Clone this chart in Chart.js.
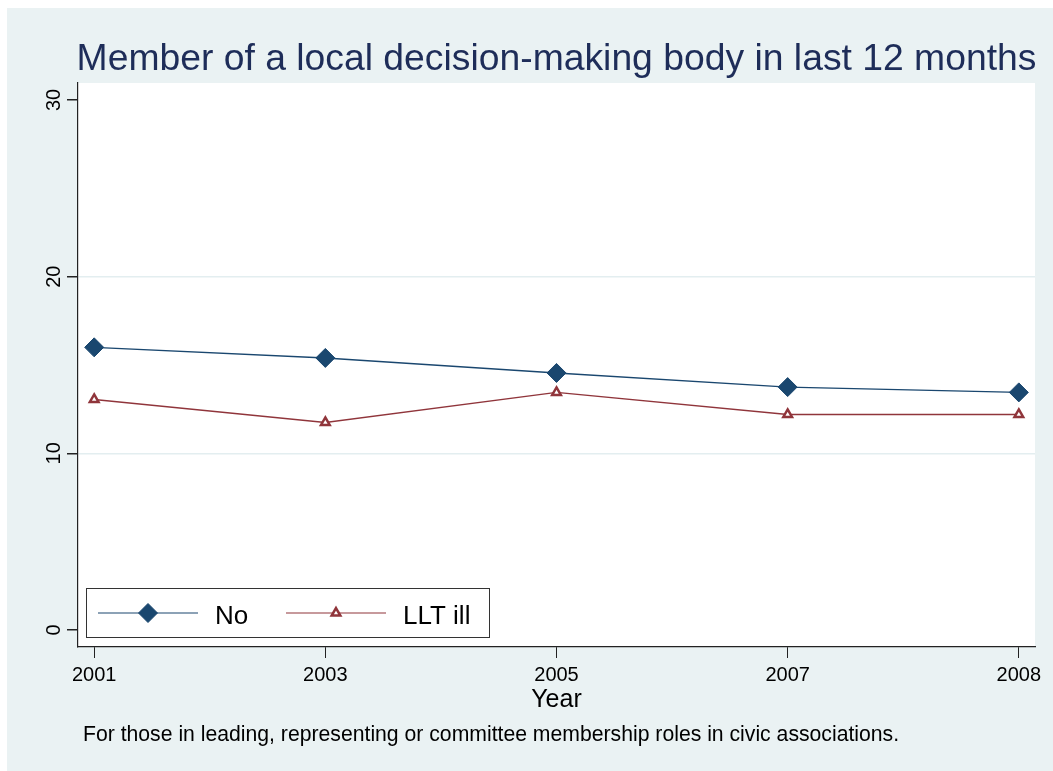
<!DOCTYPE html>
<html>
<head>
<meta charset="utf-8">
<script src="https://cdn.jsdelivr.net/npm/chart.js@4/dist/chart.umd.min.js"></script>
<style>
  html, body { margin: 0; padding: 0; background: #ffffff; }
  #wrap { position: absolute; left: 7px; top: 8px; width: 1046px; height: 763px; background: #eaf2f3; }
  canvas { display: block; }
</style>
</head>
<body>
<div id="wrap"><canvas id="chart" width="1046" height="763"></canvas></div>
<script>
// data
const years = ['2001', '2003', '2005', '2007', '2008']
const noValues = [16.0, 15.4, 14.55, 13.75, 13.45]
const lltIllValues = [13.05, 11.75, 13.45, 12.2, 12.2]
const yTicks = [0, 10, 20, 30]
const seriesLabels = ['No', 'LLT ill']

const titleText = 'Member of a local decision-making body in last 12 months'
const xTitle = 'Year'
const noteText = 'For those in leading, representing or committee membership roles in civic associations.'

const FONT = "'Liberation Sans', Arial, sans-serif"
const NAVY = '#1a476f'
const MAROON = '#90353b'

const toPoints = vals => vals.map((v, i) => ({ x: i, y: v }))

// white plot region
const plotBg = {
  id: 'plotBg',
  beforeDraw(chart) {
    const { ctx, chartArea: a } = chart
    ctx.save()
    ctx.fillStyle = '#ffffff'
    ctx.fillRect(a.left, a.top, a.right - a.left, a.bottom - a.top)
    ctx.restore()
  }
}

// title, rotated y labels, axis title, note and the in-plot legend
const decorations = {
  id: 'decorations',
  afterDraw(chart) {
    const { ctx, chartArea: a, scales } = chart
    const cx = (a.left + a.right) / 2
    ctx.save()

    ctx.fillStyle = '#1e2d59'
    ctx.font = `37.3px ${FONT}`
    ctx.textAlign = 'center'
    ctx.textBaseline = 'alphabetic'
    ctx.fillText(titleText, cx, 62)

    // y tick labels, reading bottom to top
    ctx.fillStyle = '#000'
    ctx.font = `20px ${FONT}`
    yTicks.forEach(t => {
      const y = scales.y.getPixelForValue(t)
      ctx.save()
      ctx.translate(a.left - 24, y)
      ctx.rotate(-Math.PI / 2)
      ctx.textAlign = 'center'
      ctx.textBaseline = 'middle'
      ctx.fillText(String(t), 0, 0)
      ctx.restore()
    })

    ctx.font = `25px ${FONT}`
    ctx.textAlign = 'center'
    ctx.fillText(xTitle, cx, 699)

    ctx.font = `21.2px ${FONT}`
    ctx.textAlign = 'left'
    ctx.fillText(noteText, 76, 733)

    // legend box
    const bx = a.left + 8, by = a.bottom - 59, bw = 403, bh = 49
    ctx.fillStyle = '#fff'
    ctx.fillRect(bx, by, bw, bh)
    ctx.strokeStyle = '#333'
    ctx.lineWidth = 1
    ctx.strokeRect(bx + 0.5, by + 0.5, bw, bh)
    const ly = by + 25
    chart.data.datasets.forEach((ds, i) => {
      const x0 = bx + 12 + i * 188
      ctx.strokeStyle = ds.borderColor
      ctx.lineWidth = 1.2
      ctx.beginPath()
      ctx.moveTo(x0, ly)
      ctx.lineTo(x0 + 100, ly)
      ctx.stroke()
      ctx.fillStyle = ds.pointBackgroundColor
      ctx.strokeStyle = ds.pointBorderColor
      ctx.lineWidth = ds.pointBorderWidth
      Chart.helpers.drawPoint(ctx, {
        pointStyle: ds.pointStyle,
        radius: ds.pointRadius,
        rotation: 0,
        borderWidth: ds.pointBorderWidth
      }, x0 + 50, ly)
      ctx.fillStyle = '#000'
      ctx.font = `26px ${FONT}`
      ctx.textAlign = 'left'
      ctx.textBaseline = 'alphabetic'
      ctx.fillText(ds.label, x0 + 117, ly + 11)
    })
    ctx.restore()
  }
}

new Chart(document.getElementById('chart'), {
  type: 'line',
  data: {
    datasets: [
      {
        label: seriesLabels[0],
        data: toPoints(noValues),
        borderColor: NAVY,
        borderWidth: 1.4,
        pointStyle: 'rectRot',
        pointRadius: 9.5,
        pointBackgroundColor: NAVY,
        pointBorderColor: NAVY,
        pointBorderWidth: 1,
        tension: 0
      },
      {
        label: seriesLabels[1],
        data: toPoints(lltIllValues),
        borderColor: MAROON,
        borderWidth: 1.4,
        pointStyle: 'triangle',
        pointRadius: 5,
        pointBackgroundColor: '#ffffff',
        pointBorderColor: MAROON,
        pointBorderWidth: 2.5,
        tension: 0
      }
    ]
  },
  options: {
    responsive: false,
    animation: false,
    events: [],
    layout: { padding: { top: 75, right: 18, left: 0, bottom: 0 } },
    plugins: {
      legend: { display: false },
      title: { display: false },
      tooltip: { enabled: false }
    },
    scales: {
      x: {
        type: 'linear',
        min: -0.07,
        max: 4.07,
        afterBuildTicks: scale => { scale.ticks = years.map((_, i) => ({ value: i })) },
        afterFit: scale => { scale.height = 124 },
        border: { display: true, color: '#222', width: 1.2 },
        grid: { drawOnChartArea: false, drawTicks: true, tickLength: 11, tickColor: '#222' },
        ticks: {
          color: '#000',
          font: { family: FONT, size: 20 },
          padding: 5,
          maxRotation: 0,
          callback: v => years[v]
        }
      },
      y: {
        type: 'linear',
        min: -0.96,
        max: 30.96,
        afterBuildTicks: scale => { scale.ticks = yTicks.map(v => ({ value: v })) },
        afterFit: scale => { scale.width = 71 },
        border: { display: true, color: '#222', width: 1.2 },
        grid: {
          drawTicks: true,
          tickLength: 11,
          tickColor: '#222',
          color: c => (c.tick && (c.tick.value === 10 || c.tick.value === 20)) ? '#e3eef0' : 'rgba(0,0,0,0)',
          lineWidth: 1.5
        },
        ticks: { display: false }
      }
    }
  },
  plugins: [plotBg, decorations]
})
</script>
</body>
</html>
